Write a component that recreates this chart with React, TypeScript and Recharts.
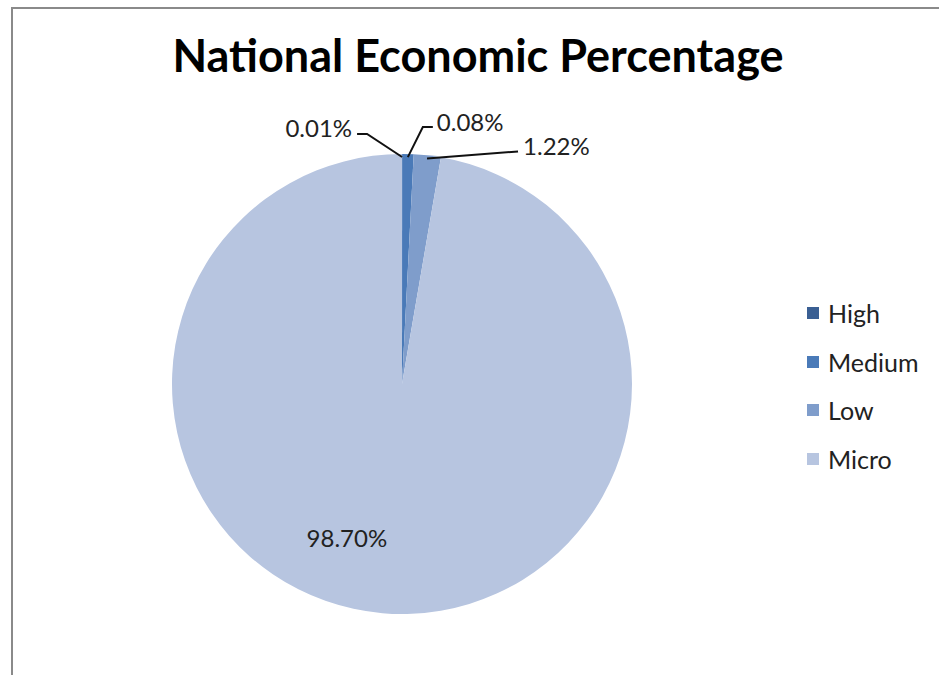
import { PieChart, Pie, Cell, Legend } from "recharts";

// categories in drawing order (clockwise from 12 o'clock)
const categories = ["High", "Medium", "Low", "Micro"];
// slice shares as drawn in the picture (angles)
const sliceShares = [0.01, 0.8, 1.9, 97.3];
// data label texts as printed on the chart
const labelTexts = ["0.01%", "0.08%", "1.22%", "98.70%"];
const colors = ["#3A5F93", "#4A7AB8", "#7F9DCB", "#B7C5E0"];

const data = categories.map((name, i) => ({ name, value: sliceShares[i], label: labelTexts[i] }));

const FONT = "Lato, 'Open Sans', sans-serif";
const RAD = Math.PI / 180;

// label placement relative to the point on the rim (leader line points + text)
const labelLayout: Record<number, { pts: number[][]; tx: number; ty: number; anchor: "start" | "end" }> = {
  0: { pts: [[-35, -23], [-45, -23]], tx: -50, ty: -30, anchor: "end" },
  1: { pts: [[15, -30], [25, -30]], tx: 29, ty: -36, anchor: "start" },
  2: { pts: [[91, -7]], tx: 96, ty: -13, anchor: "start" },
};

function renderLabel(props: any) {
  const { cx, cy, midAngle, outerRadius, index } = props;
  const text = labelTexts[index];
  const lay = labelLayout[index];
  if (!lay) {
    // inside label for the big slice
    const r = outerRadius * 0.67;
    const x = cx + r * Math.cos(-midAngle * RAD) - 42;
    const y = cy - r * Math.sin(midAngle * RAD);
    return (
      <text x={x} y={y} textAnchor="middle" dominantBaseline="central" fill="#222" fontSize={24} fontFamily={FONT}>
        {text}
      </text>
    );
  }
  const r = outerRadius - 3;
  const ax = cx + r * Math.cos(-midAngle * RAD);
  const ay = cy + r * Math.sin(-midAngle * RAD);
  const d = `M${ax},${ay}` + lay.pts.map((p) => ` L${ax + p[0]},${ay + p[1]}`).join("");
  return (
    <g>
      <path d={d} stroke="#111" strokeWidth={2} fill="none" />
      <text x={ax + lay.tx} y={ay + lay.ty} textAnchor={lay.anchor} dominantBaseline="central" fill="#222" fontSize={24} fontFamily={FONT}>
        {text}
      </text>
    </g>
  );
}

function LegendBox(props: any) {
  const items = [...(props.payload || [])].sort(
    (a: any, b: any) => categories.indexOf(a.value) - categories.indexOf(b.value)
  );
  return (
    <div style={{ fontFamily: FONT, fontSize: 25, color: "#222" }}>
      {items.map((it: any, i: number) => (
        <div key={i} style={{ height: 48.5, display: "flex", alignItems: "center" }}>
          <span style={{ width: 12, height: 12, background: it.color, display: "inline-block", marginRight: 9 }} />
          <span>{it.value}</span>
        </div>
      ))}
    </div>
  );
}

export default function App() {
  return (
    <div style={{ position: "absolute", left: 0, top: 0, width: 939, height: 675, overflow: "hidden", background: "#fff" }}>
      <div
        style={{
          position: "absolute",
          left: 11,
          top: 7,
          width: 960,
          height: 700,
          borderLeft: "2px solid #8a8a8a",
          borderTop: "2px solid #8a8a8a",
        }}
      />
      <div
        style={{
          position: "absolute",
          left: 0,
          width: 956,
          top: 33,
          textAlign: "center",
          fontFamily: FONT,
          fontWeight: 700,
          fontSize: 45,
          lineHeight: 1,
          color: "#000",
        }}
      >
        National Economic Percentage
      </div>
      <div style={{ position: "absolute", left: 0, top: 0 }}>
        <PieChart width={939} height={675} margin={{ top: 0, right: 0, bottom: 0, left: 0 }}>
          <Pie
            data={data}
            dataKey="value"
            nameKey="name"
            cx={402}
            cy={384}
            outerRadius={230}
            startAngle={90}
            endAngle={-270}
            stroke="none"
            label={renderLabel}
            labelLine={false}
            isAnimationActive={false}
          >
            {data.map((d, i) => (
              <Cell key={d.name} fill={colors[i]} />
            ))}
          </Pie>
          <Legend content={<LegendBox />} wrapperStyle={{ left: 807, top: 289, width: 130 }} />
        </PieChart>
      </div>
    </div>
  );
}
